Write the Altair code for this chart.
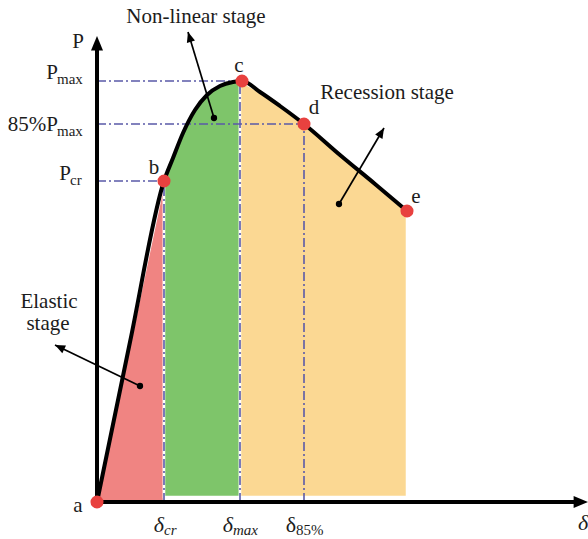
import math
import altair as alt
import pandas as pd

# ---- load–displacement curve, one list pair per stage ----
elastic_delta = [0, 33, 67]
elastic_load = [0, 160, 321]
nonlinear_delta = [67, 76, 86, 98, 110, 123, 136, 145]
nonlinear_load = [321, 344, 369, 392, 407, 416, 420, 421]
recession_delta = [145, 163, 183, 207, 243, 278, 310]
recession_load = [421, 410, 396, 378, 347, 318, 291]

# ---- characteristic points ----
point_names = ["a", "b", "c", "d", "e"]
point_delta = [0, 67, 145, 207, 310]
point_load = [0, 321, 421, 378, 291]

# ---- reference levels ----
level_delta = [67, 143, 207]          # δcr, δmax, δ85%
level_load = [321, 421, 378]          # Pcr, Pmax, 85%Pmax

W, H = 588, 539
OX, OY = 97, 502                      # origin position inside the view
xs = alt.Scale(domain=[-OX, W - OX], nice=False, zero=False)
ys = alt.Scale(domain=[OY - H, OY], nice=False, zero=False)

SERIF = "Liberation Serif"
GUIDE = "#5a5aa8"
INK = "#1c1c1c"


def X(f="x"):
    return alt.X(f"{f}:Q", scale=xs, axis=None)


def Y(f="y"):
    return alt.Y(f"{f}:Q", scale=ys, axis=None)


def area(xv, yv, base, color):
    df = pd.DataFrame({"x": xv, "y": yv, "base": base})
    return alt.Chart(df).mark_area(
        interpolate="monotone", color=color, fillOpacity=1,
        stroke="white", strokeWidth=2.5
    ).encode(x=X(), y=Y(), y2=alt.Y2("base:Q"))


# coloured stage regions
areas = [
    area(elastic_delta, elastic_load, 0, "#f08482"),
    area(nonlinear_delta[:-1] + [143], nonlinear_load, 5, "#7ec56a"),
    area([143] + recession_delta[1:], recession_load, 5, "#fbd893"),
]

# dash-dot guides to the axes
guide_df = pd.DataFrame({"d": level_delta, "p": level_load})
h_guides = alt.Chart(guide_df).mark_rule(
    color=GUIDE, strokeWidth=1.6, strokeDash=[9, 3, 2, 3]
).transform_calculate(zero="0").encode(
    x=alt.X("zero:Q", scale=xs, axis=None), x2=alt.X2("d:Q"), y=Y("p"))
v_guides = alt.Chart(guide_df).mark_rule(
    color=GUIDE, strokeWidth=1.6, strokeDash=[9, 3, 2, 3]
).transform_calculate(zero="0").encode(
    x=X("d"), y=alt.Y("zero:Q", scale=ys, axis=None), y2=alt.Y2("p:Q"))

# axes with arrowheads
axes_df = pd.DataFrame({"x": [0, 0], "y": [0, 0], "x2": [0, 480], "y2": [455, 0]})
axes = alt.Chart(axes_df).mark_rule(color="black", strokeWidth=4).encode(
    x=X(), y=Y(), x2=alt.X2("x2:Q"), y2=alt.Y2("y2:Q"))
HEAD = "M0,0L-1.5,3.6L1.5,3.6Z"
axis_heads = alt.Chart(pd.DataFrame({"x": [0, 491], "y": [466, 0], "a": [0, 90]})).mark_point(
    shape=HEAD, filled=True, color="black", opacity=1, size=64
).encode(x=X(), y=Y(), angle=alt.Angle("a:Q", scale=None))

# the curve itself
cx, cy = [], []
for dl, pl in [(elastic_delta, elastic_load), (nonlinear_delta, nonlinear_load),
               (recession_delta, recession_load)]:
    for d, p in zip(dl, pl):
        if cx and d <= cx[-1]:
            continue
        cx.append(d)
        cy.append(p)
curve = alt.Chart(pd.DataFrame({"x": cx, "y": cy})).mark_line(
    interpolate="monotone", color="black", strokeWidth=4
).encode(x=X(), y=Y())

pts_df = pd.DataFrame({"x": point_delta, "y": point_load, "name": point_names})
points = alt.Chart(pts_df).mark_circle(color="#e8413f", opacity=1, size=170).encode(
    x=X(), y=Y())

# stage pointer arrows: tail dot -> head
arrows = pd.DataFrame({
    "x": [117, 242, 43], "y": [384, 298, 116],
    "x2": [91, 287, -42], "y2": [470, 374, 157],
})
arrows["a"] = [(math.degrees(math.atan2(r.x2 - r.x, r.y2 - r.y)) + 360) % 360
               for r in arrows.itertuples()]
arrow_lines = alt.Chart(arrows).mark_rule(color="black", strokeWidth=1.7).encode(
    x=X(), y=Y(), x2=alt.X2("x2:Q"), y2=alt.Y2("y2:Q"))
arrow_dots = alt.Chart(arrows).mark_circle(color="black", opacity=1, size=40).encode(
    x=X(), y=Y())
arrow_heads = alt.Chart(arrows).mark_point(
    shape=HEAD, filled=True, color="black", opacity=1, size=32
).encode(x=X("x2"), y=Y("y2"), angle=alt.Angle("a:Q", scale=None))


def text(s, x, y, size=20, align="center", dx=0, dy=0, style="normal"):
    return alt.Chart(pd.DataFrame({"x": [x], "y": [y], "t": [s]})).mark_text(
        font=SERIF, fontSize=size, align=align, baseline="alphabetic",
        dx=dx, dy=dy, fontStyle=style, color=INK
    ).encode(x=X(), y=Y(), text="t:N")


labels = []
# point letters
for name, d, p, dx, dy in zip(point_names, point_delta, point_load,
                              [-19, -10, -3, 10, 9], [10, -7, -9, -10, -8]):
    labels.append(text(name, d, p, size=21, dx=dx, dy=dy))

# load levels on the vertical axis
p_cr, p_max, p_85 = level_load
labels += [
    text("P", 0, 454, size=21, dx=-19),
    text("P", 0, p_max, size=21, align="right", dx=-39, dy=-2),
    text("max", 0, p_max, size=15, align="left", dx=-40, dy=3),
    text("85%P", 0, p_85, size=21, align="right", dx=-39, dy=7),
    text("max", 0, p_85, size=15, align="left", dx=-40, dy=12),
    text("P", 0, p_cr, size=21, align="right", dx=-26, dy=-1),
    text("cr", 0, p_cr, size=15, align="left", dx=-27, dy=4),
]

# displacement levels under the horizontal axis
d_cr, d_max, d_85 = level_delta
labels += [
    text("δ", d_cr, 0, size=22, align="right", dx=0, dy=30, style="italic"),
    text("cr", d_cr, 0, size=15, align="left", dx=0, dy=33, style="italic"),
    text("δ", d_max, 0, size=22, align="right", dx=-7, dy=30, style="italic"),
    text("max", d_max, 0, size=15, align="left", dx=-7, dy=33, style="italic"),
    text("δ", d_85, 0, size=22, align="right", dx=-8, dy=30),
    text("85%", d_85, 0, size=15, align="left", dx=-8, dy=33),
    text("δ", 486, 0, size=22, dy=28, style="italic"),
]

# stage names
labels += [
    text("Non-linear stage", 99, 479, size=21),
    text("Recession stage", 290, 403, size=21),
    text("Elastic", -48, 194, size=21),
    text("stage", -49, 172, size=21),
]

chart = alt.layer(
    *areas, h_guides, v_guides, axes, axis_heads, curve, points,
    arrow_lines, arrow_dots, arrow_heads, *labels
).properties(
    width=W, height=H, padding=0, autosize=alt.AutoSizeParams(type="none")
).configure_view(stroke=None)

chart.save("out.html", embed_options={"renderer": "svg", "actions": False})
